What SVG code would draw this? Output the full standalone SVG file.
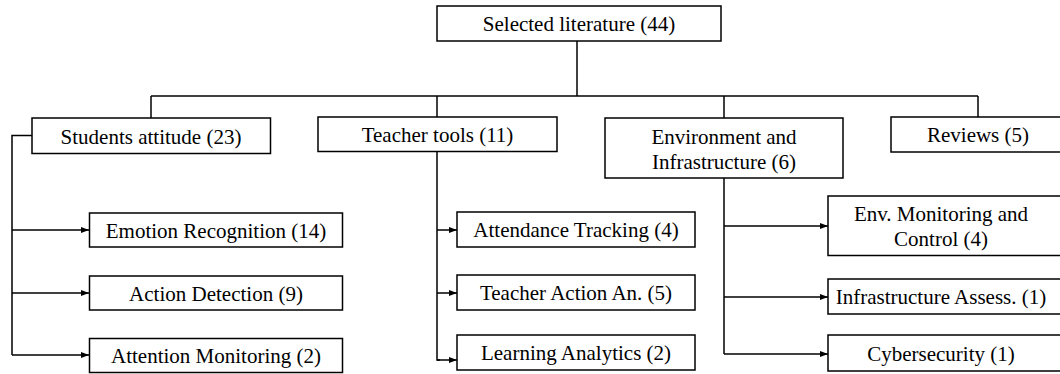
<svg xmlns="http://www.w3.org/2000/svg" width="1060" height="374" viewBox="0 0 1060 374">
  <style>
    .box { fill: #ffffff; stroke: #000000; stroke-width: 1.5; }
    .lbl { font-family: "Liberation Serif", "Times New Roman", serif; font-size: 21px; fill: #000000; text-anchor: middle; }
    .wire { fill: none; stroke: #000000; stroke-width: 1.5; }
    .arr { marker-end: url(#head); }
  </style>
  <defs>
    <marker id="head" markerWidth="8" markerHeight="6" refX="8" refY="3" orient="auto" markerUnits="userSpaceOnUse">
      <path d="M0,0 L8,3 L0,6 Z" fill="#000000"/>
    </marker>
  </defs>
  <rect width="1060" height="374" fill="#ffffff"/>

  <!-- connectors -->
  <g id="connectors">
    <path class="wire" d="M577 41 V96"/>
    <path class="wire" d="M151 96 H978"/>
    <path class="wire" d="M151 96 V118"/>
    <path class="wire" d="M437 96 V117"/>
    <path class="wire" d="M724 96 V118"/>
    <path class="wire" d="M978 96 V117"/>
    <!-- students attitude branch -->
    <path class="wire" d="M32 135.5 H12 V355"/>
    <path class="wire arr" d="M12 230 H89"/>
    <path class="wire arr" d="M12 293 H89"/>
    <path class="wire arr" d="M12 355 H89"/>
    <!-- teacher tools branch -->
    <path class="wire" d="M437 151 V360 H440"/>
    <path class="wire arr" d="M437 230 H457"/>
    <path class="wire arr" d="M437 293 H457"/>
    <path class="wire arr" d="M437 360 H457"/>
    <!-- environment branch -->
    <path class="wire" d="M724 178 V354"/>
    <path class="wire arr" d="M724 226 H828"/>
    <path class="wire arr" d="M724 297 H828"/>
    <path class="wire arr" d="M724 354 H828"/>
  </g>

  <g id="root">
    <rect class="box" x="437" y="6" width="284" height="35"/>
    <text class="lbl" x="579" y="31">Selected literature (44)</text>
  </g>

  <g id="students">
    <rect class="box" x="32" y="118" width="238.5" height="35.5"/>
    <text class="lbl" x="151" y="143.5">Students attitude (23)</text>
  </g>
  <g id="teacher">
    <rect class="box" x="318" y="117" width="239" height="34.5"/>
    <text class="lbl" x="437.5" y="142">Teacher tools (11)</text>
  </g>
  <g id="environment">
    <rect class="box" x="605" y="118" width="238" height="60"/>
    <text class="lbl" x="724" y="144">Environment and</text>
    <text class="lbl" x="724" y="168.5">Infrastructure (6)</text>
  </g>
  <g id="reviews">
    <rect class="box" x="891" y="117" width="180" height="35"/>
    <text class="lbl" x="978" y="142">Reviews (5)</text>
  </g>

  <g id="emotion">
    <rect class="box" x="89.5" y="213" width="253" height="34"/>
    <text class="lbl" x="216" y="237.5">Emotion Recognition (14)</text>
  </g>
  <g id="action">
    <rect class="box" x="89.5" y="276" width="253" height="34"/>
    <text class="lbl" x="216" y="300.5">Action Detection (9)</text>
  </g>
  <g id="attention">
    <rect class="box" x="89.5" y="338.5" width="253" height="34"/>
    <text class="lbl" x="216" y="363">Attention Monitoring (2)</text>
  </g>

  <g id="attendance">
    <rect class="box" x="457" y="212" width="238" height="35"/>
    <text class="lbl" x="576" y="237">Attendance Tracking (4)</text>
  </g>
  <g id="teacher-action">
    <rect class="box" x="457" y="275" width="238" height="35"/>
    <text class="lbl" x="576" y="300">Teacher Action An. (5)</text>
  </g>
  <g id="learning">
    <rect class="box" x="457" y="335" width="238" height="35"/>
    <text class="lbl" x="576" y="360">Learning Analytics (2)</text>
  </g>

  <g id="env-monitoring">
    <rect class="box" x="828" y="196" width="240" height="59.5"/>
    <text class="lbl" x="941" y="221">Env. Monitoring and</text>
    <text class="lbl" x="941" y="245.5">Control (4)</text>
  </g>
  <g id="infra-assess">
    <rect class="box" x="828" y="279" width="240" height="35"/>
    <text class="lbl" x="941" y="304">Infrastructure Assess. (1)</text>
  </g>
  <g id="cybersecurity">
    <rect class="box" x="828" y="335" width="240" height="36"/>
    <text class="lbl" x="941" y="360.5">Cybersecurity (1)</text>
  </g>
</svg>
